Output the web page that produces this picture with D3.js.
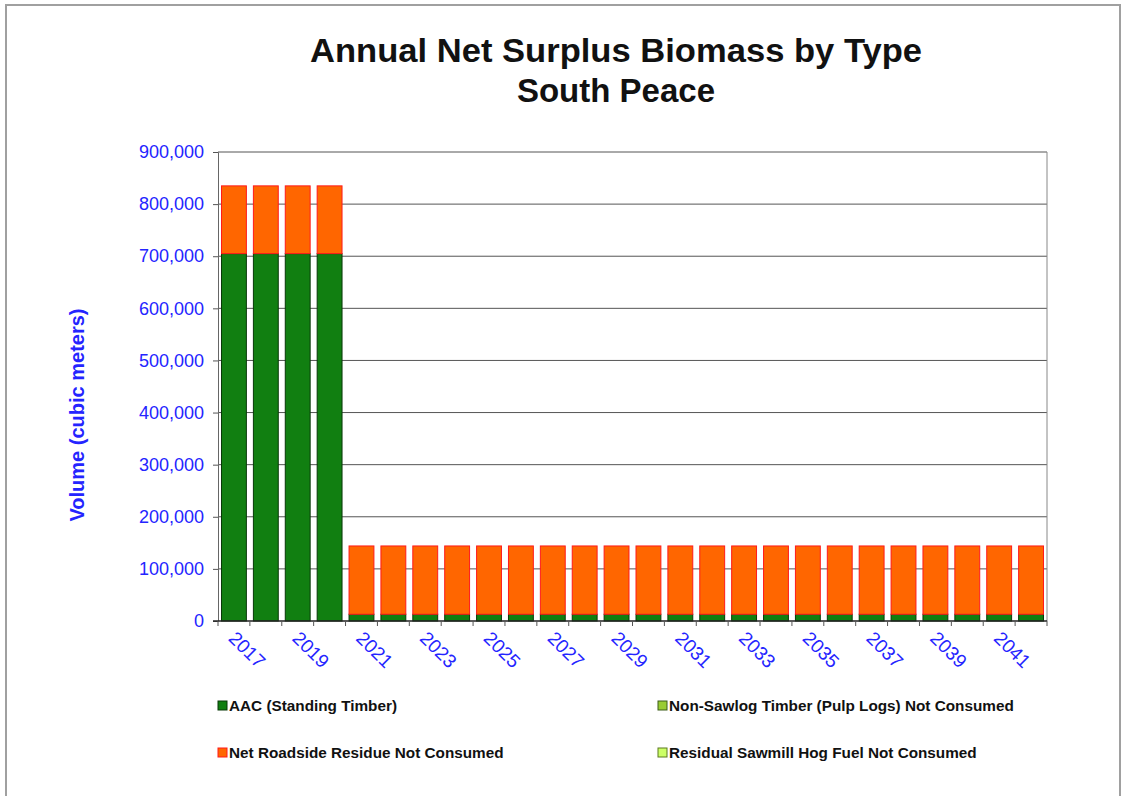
<!DOCTYPE html>
<html>
<head>
<meta charset="utf-8">
<script src="https://cdn.jsdelivr.net/npm/d3@7"></script>
<style>
  body { margin: 0; background: #fff; }
  svg { font-family: Arial, "Liberation Sans", sans-serif; }
</style>
</head>
<body>
<svg id="chart"></svg>
<script>
// chart data
var years = ['2017','2018','2019','2020','2021','2022','2023','2024','2025','2026','2027','2028','2029',
             '2030','2031','2032','2033','2034','2035','2036','2037','2038','2039','2040','2041','2042'];
var seriesNames = ['AAC (Standing Timber)', 'Non-Sawlog Timber (Pulp Logs) Not Consumed',
                   'Net Roadside Residue Not Consumed', 'Residual Sawmill Hog Fuel Not Consumed'];
var aac = [705000,705000,705000,705000,13000,13000,13000,13000,13000,13000,13000,13000,13000,
           13000,13000,13000,13000,13000,13000,13000,13000,13000,13000,13000,13000,13000];
var pulpLogs = years.map(function(){ return 0; });
var roadside = [130000,130000,130000,130000,131000,131000,131000,131000,131000,131000,131000,131000,131000,
                131000,131000,131000,131000,131000,131000,131000,131000,131000,131000,131000,131000,131000];
var hogFuel = years.map(function(){ return 0; });
var yTicks = [0,100000,200000,300000,400000,500000,600000,700000,800000,900000];
var xTickLabels = ['2017','2019','2021','2023','2025','2027','2029','2031','2033','2035','2037','2039','2041'];

var fills = ['#117f11', '#99cc33', '#ff6600', '#ccff66'];
var strokes = ['#083808', '#3d5c1a', '#ff1a1a', '#5c7a1f'];

var W = 1123, H = 796;
var plotLeft = 218, plotRight = 1047, plotTop = 152, plotBottom = 621;

var svg = d3.select('#chart').attr('width', W).attr('height', H);

// outer frame
svg.append('rect').attr('x', 6).attr('y', 5).attr('width', 1114).attr('height', 800)
   .attr('fill', 'none').attr('stroke', '#a0a0a0').attr('stroke-width', 2);

svg.append('text').attr('x', 616).attr('y', 62).attr('text-anchor', 'middle')
   .attr('font-size', 33).attr('font-weight', 'bold').attr('fill', '#111')
   .attr('textLength', 612).attr('lengthAdjust', 'spacingAndGlyphs')
   .text('Annual Net Surplus Biomass by Type');
svg.append('text').attr('x', 616).attr('y', 102).attr('text-anchor', 'middle')
   .attr('font-size', 33).attr('font-weight', 'bold').attr('fill', '#111')
   .text('South Peace');

var xScale = d3.scaleBand().domain(years).range([plotLeft, plotRight]).paddingInner(0.22).paddingOuter(0.11);
var yScale = d3.scaleLinear().domain([0, 900000]).range([plotBottom, plotTop]);

// grid
svg.append('g').selectAll('line').data(yTicks.slice(1)).enter().append('line')
   .attr('x1', plotLeft).attr('x2', plotRight)
   .attr('y1', function(d){ return yScale(d); }).attr('y2', function(d){ return yScale(d); })
   .attr('stroke', '#555').attr('stroke-width', 1);
svg.append('line').attr('x1', plotRight).attr('x2', plotRight).attr('y1', plotTop).attr('y2', plotBottom)
   .attr('stroke', '#888');

// y axis
var yAxis = d3.axisLeft(yScale).tickValues(yTicks).tickSize(5).tickFormat(d3.format(','));
var gy = svg.append('g').attr('transform', 'translate(' + plotLeft + ',0)').call(yAxis);
gy.select('.domain').attr('stroke', '#666');
gy.selectAll('.tick line').attr('stroke', '#555');
gy.selectAll('text').attr('fill', '#2424ff').attr('font-size', 18).attr('x', -14)
  .attr('font-family', 'Arial, "Liberation Sans", sans-serif');

svg.append('text').attr('transform', 'translate(84,415) rotate(-90)').attr('text-anchor', 'middle')
   .attr('font-size', 20).attr('font-weight', 'bold').attr('fill', '#2424ff')
   .text('Volume (cubic meters)');

// stacked bars
var rows = years.map(function(y, i){
  return { year: y, s0: aac[i], s1: pulpLogs[i], s2: roadside[i], s3: hogFuel[i] };
});
var stack = d3.stack().keys(['s0','s1','s2','s3'])(rows);
svg.append('g').selectAll('g').data(stack).enter().append('g')
   .attr('fill', function(d, i){ return fills[i]; })
   .attr('stroke', function(d, i){ return strokes[i]; })
   .selectAll('rect').data(function(d){ return d.filter(function(p){ return p[1] > p[0]; }); })
   .enter().append('rect')
   .attr('x', function(d){ return xScale(d.data.year); })
   .attr('width', xScale.bandwidth())
   .attr('y', function(d){ return yScale(d[1]); })
   .attr('height', function(d){ return yScale(d[0]) - yScale(d[1]); })
   .attr('stroke-width', 1);

// x axis with ticks between categories
var step = xScale.step();
var gx = svg.append('g').attr('transform', 'translate(0,' + plotBottom + ')');
gx.append('line').attr('x1', plotLeft - 5).attr('x2', plotRight).attr('stroke', '#222').attr('stroke-width', 1.5);
gx.selectAll('line.tk').data(d3.range(years.length + 1)).enter().append('line')
  .attr('class', 'tk')
  .attr('x1', function(i){ return plotLeft + i * step; }).attr('x2', function(i){ return plotLeft + i * step; })
  .attr('y1', 0).attr('y2', 5).attr('stroke', '#555');
gx.selectAll('text').data(xTickLabels).enter().append('text')
  .attr('transform', function(d){
    return 'translate(' + (xScale(d) + xScale.bandwidth() / 2 + 3) + ',9) rotate(45)';
  })
  .attr('font-size', 19).attr('fill', '#2424ff').attr('dy', '0.7em')
  .text(function(d){ return d; });

// legend
var legendPos = [[218, 711], [658, 711], [218, 758], [658, 758]];
var order = [0, 1, 2, 3];
var lg = svg.append('g').selectAll('g').data(order).enter().append('g')
   .attr('transform', function(d, i){ return 'translate(' + legendPos[i][0] + ',' + legendPos[i][1] + ')'; });
lg.append('rect').attr('x', 0).attr('y', -10).attr('width', 9).attr('height', 9)
  .attr('fill', function(d){ return fills[d]; })
  .attr('stroke', function(d){ return strokes[d]; });
lg.append('text').attr('x', 11).attr('y', 0).attr('font-size', 15.3).attr('font-weight', 'bold')
  .attr('fill', '#111').text(function(d){ return seriesNames[d]; });
</script>
</body>
</html>
